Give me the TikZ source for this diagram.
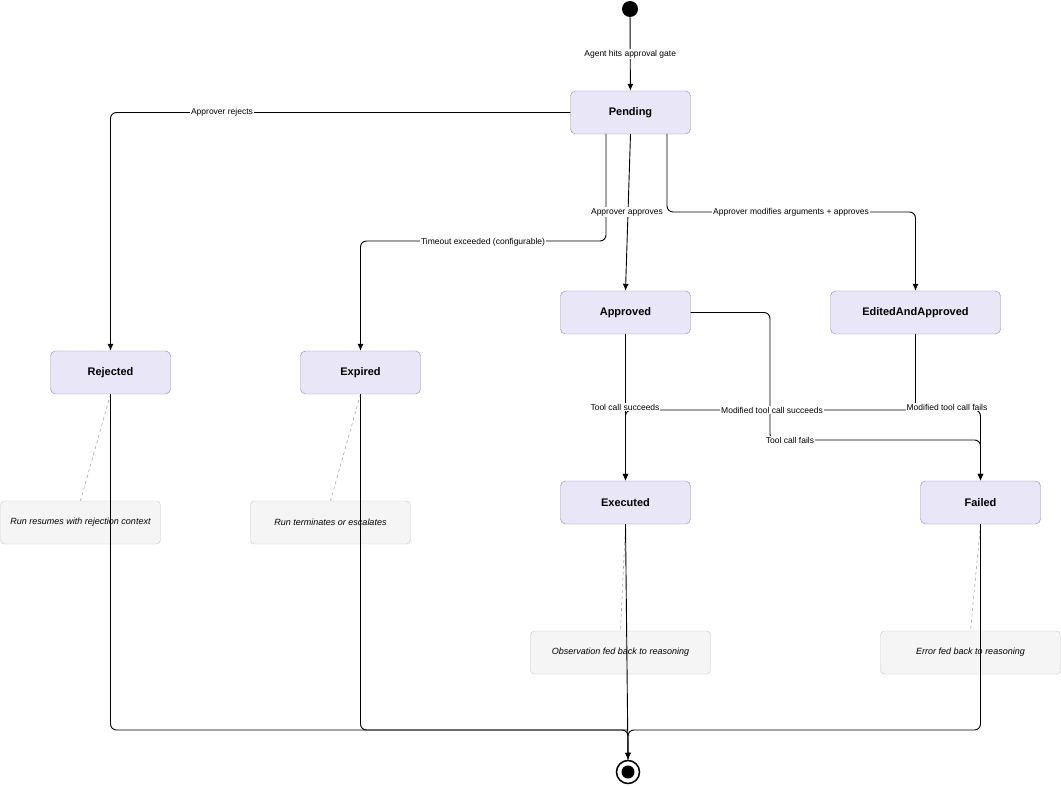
\documentclass[tikz,border=0pt]{standalone}
\usepackage{fontspec}
\setmainfont{Liberation Sans}
\usetikzlibrary{arrows.meta}
\definecolor{stfill}{HTML}{E8E6F7}
\definecolor{stdraw}{HTML}{8F88C2}
\definecolor{notefill}{HTML}{F5F5F5}
\definecolor{notedraw}{HTML}{C8C8C8}
\begin{document}
\begin{tikzpicture}[x=1pt,y=-1pt,
 state/.style={draw=stdraw,fill=stfill,rounded corners=5pt,minimum height=43pt,font=\fontsize{11}{13}\selectfont\bfseries,inner sep=0pt},
 note/.style={draw=notedraw,fill=notefill,rounded corners=4pt,minimum width=160pt,minimum height=43pt,font=\fontsize{9}{11}\selectfont\itshape,inner sep=0pt},
 edge/.style={draw=black,line width=0.9pt,rounded corners=6pt,-{Latex[length=7pt,width=6pt]}},
 plain/.style={draw=black,line width=0.9pt,rounded corners=6pt},
 lbl/.style={fill=white,font=\fontsize{8.5}{10}\selectfont,inner sep=1pt},
 notelink/.style={draw=gray!70,dashed,line width=0.6pt}]
\useasboundingbox (0,0) rectangle (1061,786);
\node[circle,fill=black,minimum size=16pt,inner sep=0pt] (start) at (630,9) {};
\node[state,minimum width=120pt] (pend) at (630.5,112.5) {Pending};
\node[state,minimum width=120pt] (rej) at (110.5,372.5) {Rejected};
\node[state,minimum width=120pt] (exp) at (360.5,372.5) {Expired};
\node[state,minimum width=130pt] (appr) at (625.5,312.5) {Approved};
\node[state,minimum width=170pt] (edit) at (915.5,312.5) {EditedAndApproved};
\node[state,minimum width=130pt] (exe) at (625.5,502.5) {Executed};
\node[state,minimum width=120pt] (fail) at (980.5,502.5) {Failed};
\node[note] (n1) at (80.5,522.5) {Run resumes with rejection context};
\node[note] (n2) at (330.5,522.5) {Run terminates or escalates};
\node[note,minimum width=180pt] (n3) at (620.5,652.5) {Observation fed back to reasoning};
\node[note,minimum width=180pt] (n4) at (970.5,652.5) {Error fed back to reasoning};
\node[circle,draw=black,line width=1.5pt,minimum size=23pt,inner sep=0pt] (end) at (628,772) {};
\node[circle,fill=black,minimum size=13pt,inner sep=0pt] at (end) {};
\coordinate (endtop) at (628,760);
\draw[notelink] (rej.south) -- (n1.north);
\draw[notelink] (exp.south) -- (n2.north);
\draw[notelink] (exe.south) -- (n3.north);
\draw[notelink] (fail.south) -- (n4.north);
\draw[edge] (start) -- node[lbl]{Agent hits approval gate} (pend);
\draw[edge] (pend.west) -- (110.5,112.5) -- (rej.north);
\node[lbl] at (222,112.5) {Approver rejects};
\draw[edge] (606,134) -- (606,241) -- (360.5,241) -- (exp.north);
\node[lbl] at (483,242) {Timeout exceeded (configurable)};
\draw[edge] (pend.south) -- (appr.north);
\node[lbl] at (627,212) {Approver approves};
\draw[edge] (667,134) -- (667,212) -- (915.5,212) -- (edit.north);
\node[lbl] at (791,212) {Approver modifies arguments + approves};
\draw[edge] (appr.south) -- (exe.north);
\draw[edge] (appr.east) -- (770,312.5) -- (770,440) -- (980.5,440) -- (fail.north);
\draw[edge] (edit.south) -- (915.5,410) -- (625.5,410) -- (exe.north);
\draw[edge] (edit.south) -- (915.5,410) -- (980.5,410) -- (fail.north);
\node[lbl] at (625,407) {Tool call succeeds};
\node[lbl] at (772,410) {Modified tool call succeeds};
\node[lbl] at (947,407) {Modified tool call fails};
\node[lbl] at (790,440) {Tool call fails};
\draw[edge] (rej.south) -- (110.5,730) -- (628,730) -- (end.north);
\draw[plain] (exp.south) -- (360.5,730) -- (628,730);
\draw[edge] (exe.south) -- (end.north);
\draw[plain] (fail.south) -- (980.5,730) -- (628,730) -- (endtop);
\end{tikzpicture}
\end{document}
